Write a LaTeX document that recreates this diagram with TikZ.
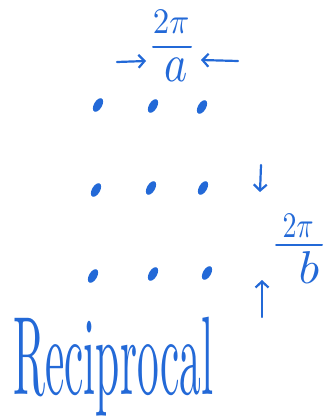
\documentclass[tikz,border=0pt]{standalone}
\usepackage{graphicx}
\usetikzlibrary{arrows.meta,shapes.geometric}
\definecolor{pen}{RGB}{35,105,215}
\begin{document}
\begin{tikzpicture}[x=1pt,y=-1pt,
  ink/.style={draw=pen,line width=2.2pt,line cap=round,-{Straight Barb[length=6pt,width=13pt,line width=2.2pt]}},
  fracbar/.style={draw=pen,line width=2pt,line cap=round},
  dotmark/.style={fill=pen,ellipse,minimum width=8pt,minimum height=15pt,inner sep=0pt,rotate=-30},
  label/.style={text=pen,inner sep=0pt}]
\useasboundingbox (0,0) rectangle (324,420);
% fraction 2pi/a
\node[label] (na) at (171,22) {\scalebox{3.3}[3.6]{$2\pi$}};
\draw[fracbar] (153,47) -- (191,47);
\node[label] (da) at (176,70) {\scalebox{4.4}[5.4]{$a$}};
% fraction 2pi/b
\node[label] (nb) at (298,226) {\scalebox{2.8}[3.6]{$2\pi$}};
\draw[fracbar] (276,245) -- (322,245);
\node[label] (db) at (309,268) {\scalebox{4.8}[4.6]{$b$}};
% dots
\foreach \r/\c/\x/\y in {1/1/98/105,1/2/153/106,1/3/202/107,
                         2/1/96/190,2/2/151/188,2/3/203/188,
                         3/1/93/276,3/2/153/274,3/3/207/273}
  \node[dotmark] (d\r\c) at (\x,\y) {};
% arrow ends
\coordinate (la0) at (117,62);
\coordinate (la1) at (146,61);
\coordinate (ra0) at (238,61);
\coordinate (ra1) at (201,60);
\coordinate (da0) at (261,165);
\coordinate (da1) at (260,192);
\coordinate (ua0) at (262,317);
\coordinate (ua1) at (262,280);
\draw[ink] (la0) -- (la1);
\draw[ink] (ra0) -- (ra1);
\draw[ink] (da0) -- (da1);
\draw[ink] (ua0) -- (ua1);
% word
\node[label,anchor=north west] (word) at (13,317) {\resizebox*{200pt}{99pt}{\textcolor{pen}{Reciprocal}}};
\end{tikzpicture}
\end{document}
